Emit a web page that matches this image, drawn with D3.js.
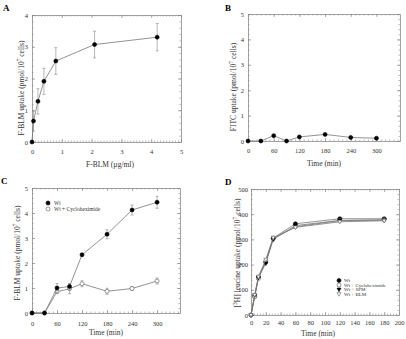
<!DOCTYPE html>
<html>
<head>
<meta charset="utf-8">
<script src="https://cdn.jsdelivr.net/npm/d3@7"></script>
<style>
  body { margin: 0; background: #fff; }
  svg, svg text { font-family: "Liberation Serif", "DejaVu Serif", serif !important; }
</style>
</head>
<body>
<div id="chart"></div>
<script>
// Panel A: F-BLM concentration vs uptake
var aDose = [0, 0.05, 0.2, 0.4, 0.8, 2.1, 4.2];
var aUptake = [0, 0.66, 1.28, 1.91, 2.55, 3.07, 3.3];
var aErr = [0, 0.32, 0.4, 0.41, 0.42, 0.42, 0.43];

// Panel B: FITC uptake over time
var bTime = [0, 30, 60, 90, 120, 180, 240, 300];
var bUptake = [0, 0, 0.21, 0, 0.16, 0.26, 0.14, 0.11];

// Panel C: F-BLM uptake over time
var cTime = [0, 30, 60, 90, 120, 180, 240, 300];
var cWt = [0, 0, 1.0, 1.06, 2.33, 3.15, 4.12, 4.43];
var cWtErr = [0, 0, 0.18, 0.12, 0.05, 0.18, 0.2, 0.24];
var cCyclo = [0, 0, 0.85, 0.97, 1.17, 0.87, 0.98, 1.28];
var cCycloErr = [0, 0, 0.05, 0.2, 0.12, 0.12, 0.08, 0.12];
var cLegend = ["Wt", "Wt + Cycloheximide"];

// Panel D: [3H] leucine uptake over time
var dTime = [0, 5, 10, 20, 30, 60, 120, 180];
var dWt = [0, 75, 150, 210, 305, 362, 382, 382];
var dCyclo = [0, 72, 145, 215, 302, 350, 375, 378];
var dSpm = [0, 78, 148, 205, 300, 355, 375, 376];
var dBlm = [0, 80, 152, 220, 307, 348, 370, 374];
var dLegend = ["Wt", "Wt + Cycloheximide", "Wt + SPM", "Wt + BLM"];

// tick values
var aXTicks = [0, 1, 2, 3, 4, 5];
var aYTicks = [0, 1, 2, 3, 4];
var timeTicks = [0, 60, 120, 180, 240, 300];
var fiveTicks = [0, 1, 2, 3, 4, 5];
var dXTicks = [0, 20, 40, 60, 80, 100, 120, 140, 160, 180, 200];
var dYTicks = [0, 100, 200, 300, 400, 500];

var svg = d3.select("#chart").append("svg")
  .attr("width", 406)
  .attr("height", 339);

var frameColor = "#8a8a8a";
var lineColor = "#777";
var textColor = "#333";

function minorTicks(lo, hi, step) {
  return d3.range(lo, hi + step / 2, step);
}

// draws frame, inward ticks on all sides, and labels on bottom/left
function drawFrame(x, y, xt, xm, yt, ym, labelPad) {
  var x0 = x.range()[0], x1 = x.range()[1];
  var y0 = y.range()[0], y1 = y.range()[1];
  var g = svg.append("g");
  var minors = [
    {ax: d3.axisBottom(x), t: `translate(0,${y0})`, v: xm},
    {ax: d3.axisTop(x), t: `translate(0,${y1})`, v: xm},
    {ax: d3.axisLeft(y), t: `translate(${x0},0)`, v: ym},
    {ax: d3.axisRight(y), t: `translate(${x1},0)`, v: ym}
  ];
  minors.forEach(function(s) {
    g.append("g").attr("transform", s.t)
      .call(s.ax.tickValues(s.v).tickSize(-1.5).tickSizeOuter(0).tickFormat(""))
      .call(a => a.select(".domain").remove())
      .selectAll("line").attr("stroke", frameColor).attr("stroke-width", 0.6);
  });
  var majors = [
    {ax: d3.axisBottom(x), t: `translate(0,${y0})`, lab: true, v: xt},
    {ax: d3.axisTop(x), t: `translate(0,${y1})`, lab: false, v: xt},
    {ax: d3.axisLeft(y), t: `translate(${x0},0)`, lab: true, v: yt},
    {ax: d3.axisRight(y), t: `translate(${x1},0)`, lab: false, v: yt}
  ];
  majors.forEach(function(s, i) {
    var a = s.ax.tickValues(s.v).tickSize(-3).tickSizeOuter(0)
      .tickPadding(i < 2 ? labelPad[0] : labelPad[1])
      .tickFormat(s.lab ? d3.format("d") : "");
    var ag = g.append("g").attr("transform", s.t).call(a);
    ag.attr("font-family", null);
    ag.select(".domain").attr("stroke", frameColor).attr("stroke-width", 0.8);
    ag.selectAll("line").attr("stroke", frameColor).attr("stroke-width", 0.7);
    ag.selectAll("text").attr("font-size", 6.5).attr("fill", textColor);
  });
  return g;
}

function supLabel(sel, parts) {
  // parts: [text, sup, text, sup, text...]
  parts.forEach(function(p, i) {
    var t = sel.append("tspan").text(p);
    if (i % 2 === 1) {
      t.attr("dy", -3).attr("font-size", 5.5);
    } else if (i > 0) {
      t.attr("dy", 3);
    }
  });
}

function yTitle(cx, cy, parts) {
  var t = svg.append("text")
    .attr("transform", `translate(${cx},${cy}) rotate(-90)`)
    .attr("text-anchor", "middle")
    .attr("font-size", 7.5)
    .attr("fill", textColor);
  supLabel(t, parts);
}

function xTitle(cx, cy, txt) {
  svg.append("text")
    .attr("x", cx).attr("y", cy)
    .attr("text-anchor", "middle")
    .attr("font-size", 7.5)
    .attr("fill", textColor)
    .text(txt);
}

function panelLetter(px, py, txt) {
  svg.append("text")
    .attr("x", px).attr("y", py)
    .attr("font-size", 9)
    .attr("font-weight", "bold")
    .text(txt);
}

function drawSeries(x, y, xs, ys, errs, marker) {
  var pts = xs.map((v, i) => ({x: v, y: ys[i], e: errs ? errs[i] : 0}));
  var g = svg.append("g");
  g.append("path")
    .datum(pts)
    .attr("fill", "none")
    .attr("stroke", lineColor)
    .attr("stroke-width", 0.8)
    .attr("d", d3.line().x(d => x(d.x)).y(d => y(d.y)));
  var eb = pts.filter(d => d.e > 0);
  g.selectAll(".eb").data(eb).enter().append("path")
    .attr("fill", "none")
    .attr("stroke", "#888")
    .attr("stroke-width", 0.6)
    .attr("d", d => {
      var px = x(d.x), top = y(d.y + d.e), bot = y(d.y - d.e);
      return `M${px},${top}V${bot}M${px - 1.5},${top}H${px + 1.5}M${px - 1.5},${bot}H${px + 1.5}`;
    });
  drawMarkers(g, pts.map(d => [x(d.x), y(d.y)]), marker);
}

function drawMarkers(g, coords, marker) {
  coords.forEach(function(c) {
    if (marker === "filled" || marker === "open") {
      g.append("circle").attr("cx", c[0]).attr("cy", c[1]).attr("r", 2)
        .attr("fill", marker === "filled" ? "#000" : "#fff")
        .attr("stroke", marker === "filled" ? "#000" : "#555")
        .attr("stroke-width", 0.6);
    } else {
      var s = 2;
      g.append("path")
        .attr("d", `M${c[0] - s},${c[1] - s * 0.7}L${c[0] + s},${c[1] - s * 0.7}L${c[0]},${c[1] + s * 1.1}Z`)
        .attr("fill", marker === "tri-filled" ? "#000" : "#fff")
        .attr("stroke", marker === "tri-filled" ? "#000" : "#666")
        .attr("stroke-width", 0.6);
    }
  });
}

// ---------- Panel A ----------
var xA = d3.scaleLinear().domain([0, 5]).range([32, 181]);
var yA = d3.scaleLinear().domain([0, 4]).range([142, 15]);
drawFrame(xA, yA, aXTicks, minorTicks(0, 5, 0.1), aYTicks, minorTicks(0, 4, 0.2), [7, 4]);
drawSeries(xA, yA, aDose, aUptake, aErr, "filled");
panelLetter(3, 11, "A");
yTitle(24, 88, ["F-BLM uptake (pmol/10", "7", " cells)"]);
xTitle(110, 167, "F-BLM (\u00b5g/ml)");

// ---------- Panel B ----------
var xB = d3.scaleLinear().domain([0, 355]).range([248, 400]);
var yB = d3.scaleLinear().domain([0, 5]).range([141, 14]);
drawFrame(xB, yB, timeTicks, minorTicks(0, 350, 10), fiveTicks, minorTicks(0, 5, 0.2), [7, 4]);
drawSeries(xB, yB, bTime, bUptake, null, "filled");
panelLetter(225, 11, "B");
yTitle(236, 87, ["FITC uptake (pmol/10", "7", " cells)"]);
xTitle(324, 166, "Time (min)");

// ---------- Panel C ----------
var xC = d3.scaleLinear().domain([0, 355]).range([32, 180]);
var yC = d3.scaleLinear().domain([0, 5]).range([313, 188]);
drawFrame(xC, yC, timeTicks, minorTicks(0, 350, 10), fiveTicks, minorTicks(0, 5, 0.2), [8, 4]);
drawSeries(xC, yC, cTime, cCyclo, cCycloErr, "open");
drawSeries(xC, yC, cTime, cWt, cWtErr, "filled");
panelLetter(1, 184, "C");
yTitle(20, 253, ["F-BLM uptake (pmol/10", "7", " cells)"]);
xTitle(106, 335, "Time (min)");

var legC = svg.append("g");
["filled", "open"].forEach(function(m, i) {
  drawMarkers(legC, [[48, 203 + i * 6]], m);
  legC.append("text").attr("x", 54).attr("y", 205.2 + i * 6)
    .attr("font-size", 5.5).attr("fill", textColor).text(cLegend[i]);
});

// ---------- Panel D ----------
var xD = d3.scaleLinear().domain([0, 200]).range([251, 399]);
var yD = d3.scaleLinear().domain([0, 500]).range([315, 189]);
drawFrame(xD, yD, dXTicks, minorTicks(0, 200, 4), dYTicks, minorTicks(0, 500, 20), [5, 3]);
var dSeries = [dWt, dCyclo, dSpm, dBlm];
var dMarkers = ["filled", "open", "tri-filled", "tri-open"];
dSeries.forEach(function(s, i) {
  drawSeries(xD, yD, dTime, s, null, dMarkers[i]);
});
panelLetter(225, 185, "D");
yTitle(240, 253, ["[", "3", "H] leucine uptake (pmol/10", "7", " cells)"]);
xTitle(318, 336, "Time (min)");

var legD = svg.append("g");
dMarkers.forEach(function(m, i) {
  drawMarkers(legD, [[339, 280.5 + i * 4.5]], m);
  legD.append("text").attr("x", 344).attr("y", 282.3 + i * 4.5)
    .attr("font-size", 5).attr("fill", textColor).text(dLegend[i]);
});
</script>
</body>
</html>
